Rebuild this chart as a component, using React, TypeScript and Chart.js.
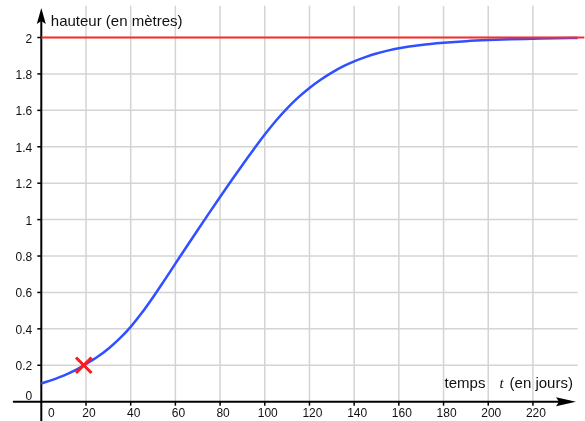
import React, { useEffect, useRef } from 'react';
import { Chart, registerables } from 'chart.js';

Chart.register(...registerables);

// ---- data ----
const days = [0, 5, 10, 15, 20, 25, 30, 35, 40, 45, 50, 55, 60, 65, 70, 75, 80, 85, 90, 95, 100, 105, 110, 115, 120, 125, 130, 135, 140, 145, 150, 155, 160, 170, 180, 190, 200, 210, 220, 230, 240];
const heights = [0.1, 0.12, 0.143, 0.172, 0.207, 0.245, 0.291, 0.346, 0.411, 0.488, 0.574, 0.665, 0.758, 0.851, 0.943, 1.034, 1.124, 1.213, 1.3, 1.385, 1.467, 1.543, 1.611, 1.671, 1.723, 1.768, 1.807, 1.841, 1.869, 1.892, 1.912, 1.928, 1.941, 1.959, 1.971, 1.98, 1.986, 1.99, 1.993, 1.996, 1.998];
const asymptoteDays = [0, 243];
const asymptoteHeights = [2, 2];
const markerDays = [19];
const markerHeights = [0.2];
const xTickValues = [0, 20, 40, 60, 80, 100, 120, 140, 160, 180, 200, 220];
const xTickLabels = ['0', '20', '40', '60', '80', '100', '120', '140', '160', '180', '200', '220'];
const yTickValues = [0, 0.2, 0.4, 0.6, 0.8, 1, 1.2, 1.4, 1.6, 1.8, 2];
const yTickLabels = ['0', '0.2', '0.4', '0.6', '0.8', '1', '1.2', '1.4', '1.6', '1.8', '2'];
const yTitle = 'hauteur (en mètres)';
const xTitleWord = 'temps';
const xTitleVar = 't';
const xTitleUnit = '(en jours)';

const X_MIN = -18.48;
const X_MAX = 243.3;
const Y_MIN = -0.106;
const Y_MAX = 2.206;
const GRID_RIGHT = 240;
const GRID_TOP = 2.175;
const X_AXIS_START = -12.7;

const SANS = '"Liberation Sans", Arial, Helvetica, sans-serif';

const geoAxesPlugin = {
  id: 'geoAxes',
  beforeDatasetsDraw(chart: any) {
    const { ctx, chartArea } = chart;
    const xs = chart.scales.x;
    const ys = chart.scales.y;
    const px = (v: number) => xs.getPixelForValue(v);
    const py = (v: number) => ys.getPixelForValue(v);
    const line = (x1: number, y1: number, x2: number, y2: number) => {
      ctx.beginPath();
      ctx.moveTo(x1, y1);
      ctx.lineTo(x2, y2);
      ctx.stroke();
    };
    ctx.save();
    // grid
    ctx.strokeStyle = '#d4d4d4';
    ctx.lineWidth = 1.5;
    for (const v of xTickValues) {
      if (v === 0) continue;
      line(px(v), py(0), px(v), py(GRID_TOP));
    }
    for (const v of yTickValues) {
      if (v === 0) continue;
      line(px(0), py(v), px(GRID_RIGHT), py(v));
    }
    // axes
    const x0 = px(0);
    const y0 = py(0);
    const xTip = chartArea.right - 9;
    const yTip = chartArea.top + 8;
    ctx.strokeStyle = '#000';
    ctx.fillStyle = '#000';
    ctx.lineWidth = 2;
    line(px(X_AXIS_START), y0, xTip - 6, y0);
    line(x0, chartArea.bottom, x0, yTip + 6);
    // arrows
    ctx.beginPath();
    ctx.moveTo(xTip, y0);
    ctx.lineTo(xTip - 20, y0 - 4.5);
    ctx.lineTo(xTip - 17, y0);
    ctx.lineTo(xTip - 20, y0 + 4.5);
    ctx.closePath();
    ctx.fill();
    ctx.beginPath();
    ctx.moveTo(x0, yTip);
    ctx.lineTo(x0 - 4.5, yTip + 16);
    ctx.lineTo(x0, yTip + 13);
    ctx.lineTo(x0 + 4.5, yTip + 16);
    ctx.closePath();
    ctx.fill();
    // tick marks
    ctx.lineWidth = 1.5;
    for (const v of xTickValues) {
      if (v === 0) continue;
      line(px(v), y0, px(v), y0 + 4);
    }
    for (const v of yTickValues) {
      if (v === 0) continue;
      line(x0, py(v), x0 - 4, py(v));
    }
    // tick labels
    ctx.font = `12px ${SANS}`;
    ctx.fillStyle = '#111';
    ctx.textBaseline = 'alphabetic';
    ctx.textAlign = 'center';
    xTickValues.forEach((v, i) => {
      const cx = v === 0 ? px(v) + 10 : px(v) + 3;
      ctx.fillText(xTickLabels[i], cx, y0 + 15.5);
    });
    ctx.textAlign = 'right';
    yTickValues.forEach((v, i) => {
      const by = v === 0 ? y0 - 2 : py(v) + 5;
      ctx.fillText(yTickLabels[i], x0 - 9, by);
    });
    // axis titles
    ctx.font = `15px ${SANS}`;
    ctx.textAlign = 'left';
    ctx.fillText(yTitle, x0 + 9.5, chartArea.top + 26);
    const tx = px(180) + 1;
    const ty = y0 - 14;
    ctx.fillText(xTitleWord, tx, ty);
    ctx.font = `italic 15px "Liberation Serif", "Times New Roman", serif`;
    ctx.fillText(xTitleVar, tx + 55, ty);
    ctx.font = `15px ${SANS}`;
    ctx.fillText(xTitleUnit, tx + 65, ty);
    ctx.restore();
  },
};

export default function App() {
  const canvasRef = useRef<HTMLCanvasElement | null>(null);

  useEffect(() => {
    const canvas = canvasRef.current;
    if (!canvas) return;
    const chart = new Chart(canvas, {
      type: 'scatter',
      data: {
        datasets: [
          {
            label: 'point',
            data: markerDays.map((d, i) => ({ x: d, y: markerHeights[i] })),
            showLine: false,
            pointStyle: 'crossRot',
            pointRadius: 11,
            pointBorderWidth: 3,
            pointBorderColor: '#ff1a1a',
            pointBackgroundColor: '#ff1a1a',
            borderColor: '#ff1a1a',
            order: 0,
          },
          {
            label: 'asymptote',
            data: asymptoteDays.map((d, i) => ({ x: d, y: asymptoteHeights[i] })),
            showLine: true,
            borderColor: '#ff2a2a',
            borderWidth: 2,
            pointRadius: 0,
            order: 1,
          },
          {
            label: 'hauteur',
            data: days.map((d, i) => ({ x: d, y: heights[i] })),
            showLine: true,
            borderColor: '#3050ff',
            borderWidth: 2.5,
            pointRadius: 0,
            cubicInterpolationMode: 'monotone',
            order: 2,
          },
        ],
      },
      options: {
        responsive: false,
        animation: false,
        layout: { padding: 0, autoPadding: false },
        scales: {
          x: { type: 'linear', min: X_MIN, max: X_MAX, display: false },
          y: { type: 'linear', min: Y_MIN, max: Y_MAX, display: false },
        },
        plugins: {
          legend: { display: false },
          tooltip: { enabled: false },
        },
        events: [],
      } as any,
      plugins: [geoAxesPlugin],
    });
    return () => chart.destroy();
  }, []);

  return (
    <div style={{ position: 'fixed', left: 0, top: 0, width: 585, height: 421, background: '#fff' }}>
      <canvas ref={canvasRef} width={585} height={421} style={{ display: 'block', width: 585, height: 421 }} />
    </div>
  );
}
